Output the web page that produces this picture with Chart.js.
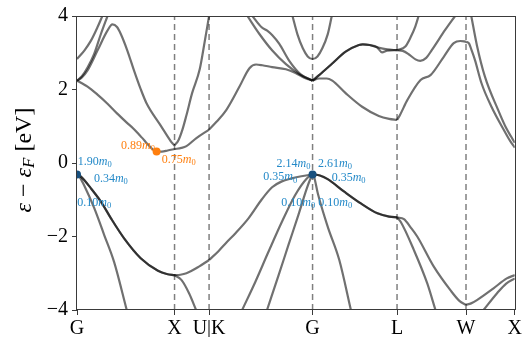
<!DOCTYPE html>
<html>
<head>
<meta charset="utf-8">
<script src="https://cdn.jsdelivr.net/npm/chart.js@4.4.1/dist/chart.umd.min.js"></script>
<style>
  html, body { margin: 0; padding: 0; background: #fff; }
  #wrap { width: 524px; height: 337px; }
</style>
</head>
<body>
<div id="wrap"><canvas id="bands" width="524" height="337"></canvas></div>
<script>
// k-path (G-X-U|K-G-L-W-X), distances along the path
const kTicks = [0, 1.0, 1.354, 2.415, 3.281, 3.988, 4.488];
const kLabels = ['G', 'X', 'U|K', 'G', 'L', 'W', 'X'];
const eTicks = [-4, -2, 0, 2, 4];

// valence bands  [k, E (eV)]
const vbHeavyGX = [[0,-0.31],[0.04,-0.37],[0.143,-0.69],[0.245,-1.05],[0.347,-1.5],[0.483,-2.05],[0.653,-2.59],[0.83,-2.93],[0.92,-3.02],[1.0,-3.05]];
const vbLightGX = [[0,-0.31],[0.03,-0.4],[0.075,-0.62],[0.177,-1.23],[0.279,-1.96],[0.38,-2.69],[0.51,-4.0]];
const vbUpXK = [[1.0,-3.05],[1.06,-3.04],[1.122,-3.0],[1.25,-2.82],[1.354,-2.64]];
const vbDownXK = [[1.0,-3.05],[1.07,-3.18],[1.15,-3.55],[1.221,-4.0]];
const vbHeavyKG = [[1.354,-2.64],[1.45,-2.4],[1.53,-2.17],[1.625,-1.91],[1.76,-1.5],[1.897,-0.98],[2.0,-0.66],[2.1,-0.5],[2.2,-0.42],[2.3,-0.36],[2.415,-0.31]];
const vbLight1KG = [[1.693,-4.0],[1.829,-3.23],[1.964,-2.41],[2.101,-1.6],[2.237,-0.87],[2.356,-0.42],[2.415,-0.31]];
const vbLight2KG = [[1.948,-4.0],[2.067,-3.05],[2.168,-2.23],[2.27,-1.41],[2.356,-0.69],[2.39,-0.45],[2.415,-0.31]];
const vbHeavyGL = [[2.415,-0.31],[2.49,-0.34],[2.57,-0.44],[2.74,-0.78],[2.91,-1.1],[3.08,-1.37],[3.2,-1.46],[3.281,-1.48]];
const vbLightGL = [[2.415,-0.31],[2.43,-0.37],[2.469,-0.83],[2.57,-1.73],[2.689,-2.64],[2.808,-4.0]];
const vbOuterLW = [[3.281,-1.48],[3.352,-1.53],[3.42,-1.75],[3.488,-2.0],[3.658,-2.82],[3.828,-3.46],[3.92,-3.75],[3.988,-3.86]];
const vbInnerLW = [[3.281,-1.48],[3.318,-1.6],[3.454,-2.37],[3.59,-3.27],[3.675,-4.0]];
const vbUpperWX = [[3.988,-3.86],[4.04,-3.82],[4.1,-3.73],[4.27,-3.41],[4.406,-3.14],[4.488,-3.05]];
const vbLowerWX = [[4.168,-4.0],[4.304,-3.55],[4.4,-3.28],[4.488,-3.14]];

// conduction bands  [k, E (eV)]
const cbLowGX = [[0,2.24],[0.05,2.17],[0.108,2.08],[0.21,1.86],[0.31,1.62],[0.41,1.35],[0.51,1.1],[0.577,0.94],[0.64,0.76],[0.673,0.67],[0.714,0.54],[0.765,0.4],[0.816,0.31],[0.87,0.31],[0.93,0.34],[1.0,0.38]];
const cbG2GX = [[0,2.83],[0.075,3.06],[0.143,3.33],[0.211,3.7],[0.26,4.0]];
const cbSteepGX = [[0,2.24],[0.05,2.36],[0.108,2.6],[0.176,2.97],[0.245,3.51],[0.313,4.0]];
const cbHumpGX = [[0,2.24],[0.05,2.33],[0.108,2.52],[0.21,3.06],[0.312,3.6],[0.363,3.77],[0.41,3.7],[0.449,3.51],[0.516,3.06],[0.584,2.52],[0.653,2.01],[0.714,1.62],[0.85,1.05],[0.93,0.72],[0.97,0.56],[1.0,0.48]];
const cbSteepXK = [[1.0,0.48],[1.04,0.62],[1.08,0.9],[1.122,1.3],[1.18,1.9],[1.258,2.55],[1.309,3.3],[1.354,4.0]];
const cbLowXK = [[1.0,0.38],[1.07,0.41],[1.122,0.46],[1.224,0.68],[1.354,0.91]];
const cbLowKG = [[1.354,0.91],[1.43,1.12],[1.53,1.44],[1.666,2.08],[1.768,2.58],[1.836,2.68],[1.9,2.66],[2.0,2.61],[2.142,2.55],[2.24,2.45],[2.33,2.32],[2.415,2.24]];
const cbFallAKG = [[1.747,4.0],[1.87,3.51],[2.002,3.06],[2.142,2.69],[2.278,2.42],[2.415,2.24]];
const cbFallBKG = [[1.798,4.0],[1.89,3.7],[1.95,3.6],[2.0,3.48],[2.074,3.24],[2.176,2.78],[2.29,2.42],[2.415,2.24]];
const cbGamma2 = [[2.209,4.0],[2.26,3.5],[2.315,3.12],[2.365,2.9],[2.415,2.83],[2.465,2.9],[2.515,3.12],[2.57,3.5],[2.612,4.0]];
const cbUpper1GL = [[2.415,2.24],[2.482,2.39],[2.614,2.7],[2.754,3.03],[2.89,3.21],[2.93,3.23],[3.0,3.21],[3.076,3.15],[3.18,3.09],[3.281,3.07]];
const cbUpper2GL = [[2.415,2.24],[2.482,2.39],[2.614,2.7],[2.754,3.03],[2.89,3.21],[2.93,3.23],[3.0,3.21],[3.076,3.15],[3.127,3.01],[3.18,3.06],[3.281,3.07]];
const cbLowGL = [[2.415,2.24],[2.482,2.3],[2.56,2.3],[2.617,2.24],[2.754,1.9],[2.923,1.53],[3.094,1.28],[3.2,1.2],[3.281,1.17]];
const cbLowLW = [[3.281,1.17],[3.31,1.3],[3.386,1.71],[3.522,2.26],[3.624,2.39],[3.76,2.89],[3.862,3.26],[3.93,3.32],[3.988,3.3]];
const cbMidLW = [[3.281,3.07],[3.34,3.05],[3.4,2.96],[3.47,2.82],[3.519,2.78],[3.58,2.86],[3.637,3.07],[3.774,3.62],[3.876,4.0]];
const cbUpLW = [[3.281,3.07],[3.366,3.17],[3.42,3.42],[3.468,3.71],[3.502,4.0]];
const cbFromW = [[3.988,3.3],[4.02,3.25],[4.045,3.07],[4.08,2.8],[4.147,2.17],[4.249,1.53],[4.386,0.85],[4.44,0.6],[4.488,0.42]];
const cbFromTopWX = [[4.042,4.0],[4.1,3.2],[4.182,2.35],[4.318,1.44],[4.4,0.95],[4.45,0.72],[4.488,0.55]];

// band extrema and fitted effective masses (in m0)
const vbmPoints = [[0,-0.31],[2.415,-0.31]];
const cbmPoints = [[0.816,0.31]];
const massValues = ['1.90','0.34','0.10','0.89','0.75','2.14','2.61','0.35','0.35','0.10','0.10'];

// degenerate bands appear twice (darker line)
const bands = [
  vbHeavyGX, vbHeavyGX, vbLightGX, vbUpXK, vbDownXK, vbHeavyKG, vbLight1KG, vbLight2KG,
  vbHeavyGL, vbHeavyGL, vbLightGL, vbOuterLW, vbInnerLW, vbUpperWX, vbLowerWX,
  cbLowGX, cbG2GX, cbSteepGX, cbHumpGX, cbSteepXK, cbLowXK, cbLowKG, cbFallAKG, cbFallBKG,
  cbGamma2, cbUpper1GL, cbUpper2GL, cbLowGL, cbLowLW, cbMidLW, cbUpLW, cbFromW, cbFromTopWX
];

const BLUE_TXT = '#2389c8';
const ORANGE = '#ff7f0e';
// where each mass label sits: [k, E, colour, align]
const massPlaces = [
  [0.008, 0.03, BLUE_TXT, 'left'],
  [0.173, -0.44, BLUE_TXT, 'left'],
  [0.003, -1.09, BLUE_TXT, 'left'],
  [0.799, 0.47, ORANGE, 'right'],
  [0.870, 0.09, ORANGE, 'left'],
  [2.046, -0.02, BLUE_TXT, 'left'],
  [2.471, -0.02, BLUE_TXT, 'left'],
  [1.910, -0.39, BLUE_TXT, 'left'],
  [2.611, -0.41, BLUE_TXT, 'left'],
  [2.094, -1.09, BLUE_TXT, 'left'],
  [2.474, -1.09, BLUE_TXT, 'left']
];

const SERIF = '"Liberation Serif", "Times New Roman", serif';
const toXY = arr => arr.map(([x, y]) => ({ x, y }));

const datasets = [];
kTicks.slice(1, -1).forEach(k => {
  datasets.push({
    data: toXY([[k, eTicks[0]], [k, eTicks[eTicks.length - 1]]]),
    borderColor: 'rgba(0,0,0,0.5)', borderWidth: 1.5, borderDash: [6, 4],
    pointRadius: 0, tension: 0, order: 5
  });
});
bands.forEach(b => {
  datasets.push({
    data: toXY(b),
    borderColor: 'rgba(0,0,0,0.56)', borderWidth: 2.2,
    pointRadius: 0, cubicInterpolationMode: 'monotone', clip: 0, order: 2
  });
});
datasets.push({
  data: toXY(vbmPoints), showLine: false, pointRadius: 4, pointHoverRadius: 4,
  pointBackgroundColor: '#17507f', pointBorderWidth: 0, clip: 0, order: 1
});
datasets.push({
  data: toXY(cbmPoints), showLine: false, pointRadius: 4, pointHoverRadius: 4,
  pointBackgroundColor: ORANGE, pointBorderWidth: 0, clip: 0, order: 1
});

function drawMass(ctx, x, y, val, color, align) {
  const big = '12px ' + SERIF, ital = 'italic 12px ' + SERIF, small = '8.5px ' + SERIF;
  ctx.font = big; const w1 = ctx.measureText(val).width;
  ctx.font = ital; const w2 = ctx.measureText('m').width;
  ctx.font = small; const w3 = ctx.measureText('0').width;
  const x0 = align === 'right' ? x - (w1 + w2 + w3) : x;
  ctx.fillStyle = color;
  ctx.textAlign = 'left';
  ctx.textBaseline = 'middle';
  ctx.font = big; ctx.fillText(val, x0, y);
  ctx.font = ital; ctx.fillText('m', x0 + w1, y);
  ctx.font = small; ctx.fillText('0', x0 + w1 + w2, y + 3);
}

function drawYTitle(ctx, cx, cy) {
  const size = 24;
  const segs = [
    { t: '\u03b5', f: 'italic ' + size + 'px ' + SERIF, dy: 0 },
    { t: ' \u2212 ', f: size + 'px ' + SERIF, dy: 0 },
    { t: '\u03b5', f: 'italic ' + size + 'px ' + SERIF, dy: 0 },
    { t: 'F', f: 'italic ' + Math.round(size * 0.7) + 'px ' + SERIF, dy: 5 },
    { t: ' [eV]', f: size + 'px ' + SERIF, dy: 0 }
  ];
  let total = 0;
  segs.forEach(s => { ctx.font = s.f; s.w = ctx.measureText(s.t).width; total += s.w; });
  ctx.save();
  ctx.translate(cx, cy);
  ctx.rotate(-Math.PI / 2);
  ctx.fillStyle = '#000';
  ctx.textAlign = 'left';
  ctx.textBaseline = 'middle';
  let x = -total / 2;
  segs.forEach(s => { ctx.font = s.f; ctx.fillText(s.t, x, s.dy); x += s.w; });
  ctx.restore();
}

const framePlugin = {
  id: 'frame',
  afterDraw(chart) {
    const { ctx, chartArea: a, scales } = chart;
    ctx.save();
    ctx.strokeStyle = '#3a3a3a';
    ctx.lineWidth = 1;
    ctx.strokeRect(Math.round(a.left) - 0.5, Math.round(a.top) + 0.5,
      Math.round(a.right - a.left) + 1, Math.round(a.bottom - a.top) - 1);
    massPlaces.forEach((p, i) => {
      drawMass(ctx, scales.x.getPixelForValue(p[0]), scales.y.getPixelForValue(p[1]),
        massValues[i], p[2], p[3]);
    });
    drawYTitle(ctx, 25, (a.top + a.bottom) / 2 - 3);
    ctx.restore();
  }
};

new Chart(document.getElementById('bands'), {
  type: 'line',
  data: { datasets },
  options: {
    responsive: false,
    animation: false,
    devicePixelRatio: 1,
    layout: { padding: { left: 0, right: 7, top: 16, bottom: 0 } },
    plugins: { legend: { display: false }, tooltip: { enabled: false } },
    elements: { point: { radius: 0 } },
    scales: {
      x: {
        type: 'linear', min: kTicks[0], max: kTicks[kTicks.length - 1],
        afterBuildTicks: axis => { axis.ticks = kTicks.map(v => ({ value: v })); },
        afterFit: axis => { axis.height = 27; },
        ticks: {
          autoSkip: false, maxRotation: 0, padding: 2, color: '#000',
          font: { family: SERIF, size: 20 },
          callback: (v, i) => kLabels[i]
        },
        grid: { drawOnChartArea: false, tickLength: 5, tickColor: '#3a3a3a' },
        border: { display: false }
      },
      y: {
        type: 'linear', min: eTicks[0], max: eTicks[eTicks.length - 1],
        afterBuildTicks: axis => { axis.ticks = eTicks.map(v => ({ value: v })); },
        afterFit: axis => { axis.width = 77; },
        ticks: {
          padding: 4, color: '#000',
          font: { family: SERIF, size: 20 },
          callback: v => String(v).replace('-', '\u2212')
        },
        grid: { drawOnChartArea: false, tickLength: 5, tickColor: '#3a3a3a' },
        border: { display: false }
      }
    }
  },
  plugins: [framePlugin]
});
</script>
</body>
</html>
